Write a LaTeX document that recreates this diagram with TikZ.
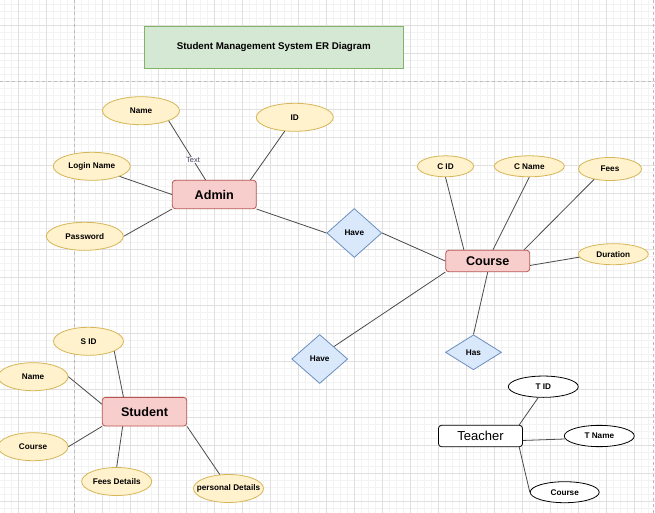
\documentclass[tikz,border=0pt]{standalone}
\usepackage{fontspec}
\setmainfont{Liberation Sans}
\usetikzlibrary{shapes.geometric}
\definecolor{entfill}{HTML}{F8CECC}
\definecolor{entline}{HTML}{B85450}
\definecolor{attrfill}{HTML}{FFF2CC}
\definecolor{attrline}{HTML}{D6B656}
\definecolor{relfill}{HTML}{DAE8FC}
\definecolor{relline}{HTML}{6C8EBF}
\definecolor{titfill}{HTML}{D5E8D4}
\definecolor{titline}{HTML}{82B366}
\definecolor{linec}{HTML}{4A4A4A}
\definecolor{lblc}{HTML}{3A3F55}
\definecolor{gridmaj}{HTML}{E0E0E0}
\definecolor{gridmin}{HTML}{F3F3F3}
\definecolor{pagebrk}{HTML}{BDBDBD}
\begin{document}
\begin{tikzpicture}[x=1pt,y=-1pt,
  ent/.style={draw=entline, fill=entfill, line width=0.8pt, rounded corners=3pt, minimum width=84pt, inner sep=0pt, font=\fontsize{12.6}{14}\selectfont\bfseries},
  tent/.style={draw=black, fill=white, line width=0.8pt, rounded corners=3pt, minimum width=84pt, minimum height=21.4pt, inner sep=0pt, font=\fontsize{13}{15}\selectfont},
  attr/.style={ellipse, draw=attrline, fill=attrfill, line width=0.8pt, inner sep=0pt, font=\fontsize{8.2}{10}\selectfont\bfseries},
  wattr/.style={ellipse, draw=black, fill=white, line width=0.8pt, inner sep=0pt, minimum width=70pt, minimum height=21.3pt, font=\fontsize{8.2}{10}\selectfont\bfseries},
  rel/.style={diamond, draw=relline, fill=relfill, line width=0.8pt, inner sep=0pt, font=\fontsize{8.2}{10}\selectfont\bfseries},
  titlebox/.style={draw=titline, fill=titfill, line width=0.8pt, inner sep=0pt, minimum width=259.4pt, minimum height=42.4pt, font=\fontsize{9.75}{12}\selectfont\bfseries},
  conn/.style={draw=linec, line width=0.8pt},
  lbl/.style={fill=white, inner sep=0.6pt, font=\fontsize{7.5}{9}\selectfont, text=lblc},
  minorgrid/.style={draw=gridmin, line width=0.6pt},
  majorgrid/.style={draw=gridmaj, line width=0.8pt},
  pagebreak/.style={draw=pagebrk, line width=0.8pt, dash pattern=on 3pt off 3pt}
]
\useasboundingbox (0,0) rectangle (655,513);
\fill[white] (0,0) rectangle (655,513);
% grid
\foreach \x in {4.3,11.3,...,655} \draw[minorgrid] (\x,0) -- (\x,513);
\foreach \y in {4,11,...,513} \draw[minorgrid] (0,\y) -- (655,\y);
\foreach \x in {18.3,46.3,...,655} \draw[majorgrid] (\x,0) -- (\x,513);
\foreach \y in {25.5,53.5,...,513} \draw[majorgrid] (0,\y) -- (655,\y);
\draw[pagebreak] (0,81.7) -- (655,81.7);
\draw[pagebreak] (74,0) -- (74,513);
\draw[pagebreak] (653.3,0) -- (653.3,513);

% title
\node[titlebox] (title) at (273.8,47.5) {Student Management System ER Diagram};

% admin group
\node[ent, minimum height=28.4pt] (admin) at (214.3,194.5) {Admin};
\node[attr, minimum width=77pt, minimum height=28pt] (nameA) at (141,110.7) {\makebox[0pt]{Name}};
\node[attr, minimum width=77pt, minimum height=28pt] (id) at (294.8,117.3) {\makebox[0pt]{ID}};
\node[attr, minimum width=77pt, minimum height=28pt] (login) at (91.8,166.3) {\makebox[0pt]{Login Name}};
\node[attr, minimum width=77pt, minimum height=28pt] (password) at (84.8,236.3) {\makebox[0pt]{Password}};
\node[rel, minimum width=55pt, minimum height=49pt] (have1) at (354.3,233) {\makebox[0pt]{Have}};

% course group
\node[ent, minimum height=21.4pt] (course) at (487.7,261) {Course};
\node[attr, minimum width=56pt, minimum height=21pt] (cid) at (445.5,166.3) {\makebox[0pt]{C ID}};
\node[attr, minimum width=70pt, minimum height=21pt] (cname) at (529.3,166.3) {\makebox[0pt]{C Name}};
\node[attr, minimum width=63pt, minimum height=23pt] (fees) at (610,169) {\makebox[0pt]{Fees}};
\node[attr, minimum width=70pt, minimum height=21pt] (duration) at (613.3,254.2) {\makebox[0pt]{Duration}};
\node[rel, minimum width=56pt, minimum height=35pt] (has) at (473.5,352.3) {\makebox[0pt]{Has}};
\node[rel, minimum width=56pt, minimum height=49pt] (have2) at (319.7,359) {\makebox[0pt]{Have}};

% student group
\node[ent, minimum height=28.7pt, minimum width=84.4pt] (student) at (144.5,411.7) {Student};
\node[attr, minimum width=70pt, minimum height=28pt] (sid) at (88.5,341.3) {\makebox[0pt]{S ID}};
\node[attr, minimum width=70pt, minimum height=28pt] (nameS) at (33,376.7) {\makebox[0pt]{Name}};
\node[attr, minimum width=70pt, minimum height=28pt] (courseS) at (33,446.7) {\makebox[0pt]{Course}};
\node[attr, minimum width=70pt, minimum height=28pt] (feesd) at (116.7,481.5) {\makebox[0pt]{Fees Details}};
\node[attr, minimum width=70pt, minimum height=28pt] (personal) at (228.5,488.5) {\makebox[0pt]{personal Details}};

% teacher group
\node[tent] (teacher) at (480.5,436) {Teacher};
\node[wattr] (tid) at (543.3,386.7) {\makebox[0pt]{T ID}};
\node[wattr] (tname) at (599.3,436) {\makebox[0pt]{T Name}};
\node[wattr, minimum width=69pt, minimum height=21pt] (courseT) at (564.7,492.2) {\makebox[0pt]{Course}};

% connectors
\draw[conn] (nameA.-20) -- node[lbl, pos=0.66] {Text} (admin.121);
\draw[conn] (id.234) -- (admin.22.4);
\draw[conn] (login.-20) -- (admin.west);
\draw[conn] (password.east) -- (admin.south west);
\draw[conn] (admin.south east) -- (have1.west);
\draw[conn] (have1.east) -- (course.west);
\draw[conn] (cid.south) -- (course.155.8);
\draw[conn] (cname.south) -- (course.65);
\draw[conn] (fees.213.5) -- (course.17.2);
\draw[conn] (duration.185) -- (course.-6.8);
\draw[conn] (course.south) -- (has.north);
\draw[conn] (course.south west) -- (have2.north east);
\draw[conn] (sid.-21) -- (student.145.3);
\draw[conn] (nameS.east) -- (student.170);
\draw[conn] (courseS.east) -- (student.south west);
\draw[conn] (feesd.north) -- (student.214.5);
\draw[conn] (personal.122) -- (student.south east);
\draw[conn] (tid.245) -- (teacher.16.9);
\draw[conn] (tname.185) -- (teacher.-6.8);
\draw[conn] (courseT.west) -- (teacher.-16.9);
\end{tikzpicture}
\end{document}
